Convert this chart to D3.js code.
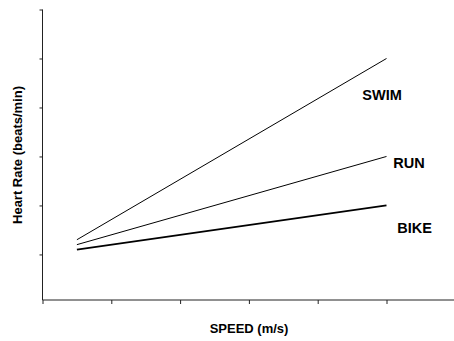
<!DOCTYPE html>
<html>
<head>
<meta charset="utf-8">
<script src="https://cdn.jsdelivr.net/npm/d3@7"></script>
<style>
  html, body { margin: 0; padding: 0; background: #fff; }
  svg { display: block; }
  text { font-family: "Liberation Sans", Arial, sans-serif; font-weight: bold; fill: #000; }
</style>
</head>
<body>
<svg id="chart" width="454" height="341"></svg>
<script>
// ---- data ----
const sports = ["SWIM", "RUN", "BIKE"];
const speedStart = [0.5, 0.5, 0.5];
const speedEnd = [5, 5, 5];
const hrStart = [86, 84, 82];
const hrEnd = [160, 120, 100];
const lineWidths = [1, 1, 1.8];
const xTickValues = [0, 1, 2, 3, 4, 5, 6];
const yTickValues = [80, 100, 120, 140, 160, 180];
const xTitle = "SPEED (m/s)";
const yTitle = "Heart Rate  (beats/min)";

// ---- layout ----
const svg = d3.select("#chart");
const x = d3.scaleLinear().domain([0, 6]).range([42.5, 455.3]);
const y = d3.scaleLinear().domain([61.4, 180]).range([300, 9.5]);

// y axis
const yAxis = d3.axisLeft(y).tickValues(yTickValues).tickSize(3).tickFormat("");
const gy = svg.append("g").attr("transform", "translate(42.5,0)").call(yAxis);
gy.select(".domain").attr("d", `M0,${y(180)}V${y.range()[0]}`).attr("stroke", "#222");
gy.selectAll(".tick line").attr("stroke", "#222");

// x axis
const xAxis = d3.axisBottom(x).tickValues(xTickValues).tickSize(4).tickFormat("");
const gx = svg.append("g").attr("transform", "translate(0,300)").call(xAxis);
gx.select(".domain").attr("d", `M${x(0)},0H${x(6)}`).attr("stroke", "#222");
gx.selectAll(".tick line").attr("stroke", "#222");

// lines
sports.forEach((s, i) => {
  svg.append("line")
    .attr("x1", x(speedStart[i])).attr("y1", y(hrStart[i]))
    .attr("x2", x(speedEnd[i])).attr("y2", y(hrEnd[i]))
    .attr("stroke", "#000").attr("stroke-width", lineWidths[i]);
});

// labels
const labelPos = [[362.3, 100], [393.3, 168.3], [397.3, 232.7]];
sports.forEach((s, i) => {
  svg.append("text").attr("x", labelPos[i][0]).attr("y", labelPos[i][1])
    .attr("font-size", "14.5px").text(s);
});

// titles
svg.append("text").attr("x", 249).attr("y", 332.5).attr("text-anchor", "middle")
  .attr("font-size", "13px").text(xTitle);
svg.append("text").attr("transform", "translate(21.5,155) rotate(-90)")
  .attr("text-anchor", "middle").attr("font-size", "13px").text(yTitle);
</script>
</body>
</html>
